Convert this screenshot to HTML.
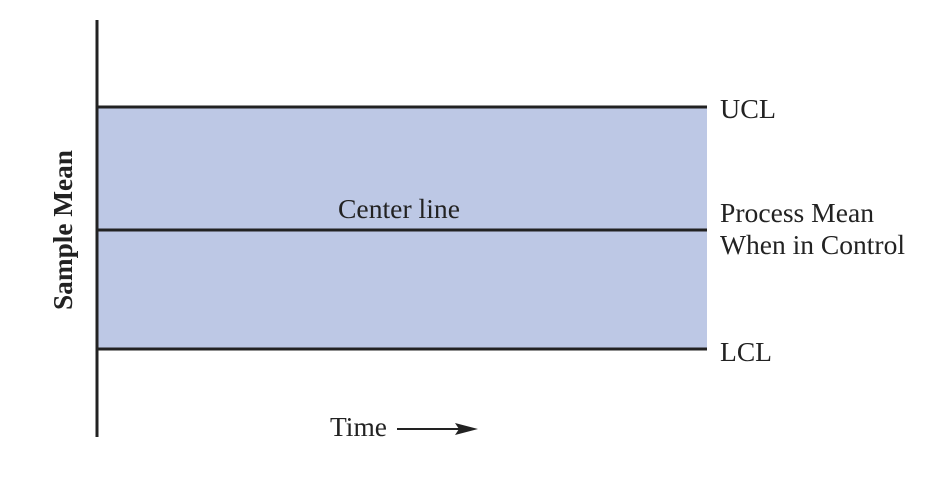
<!DOCTYPE html>
<html><head><style>body{margin:0;background:#fff}</style></head><body>
<svg width="942" height="482" xmlns="http://www.w3.org/2000/svg" font-family="Liberation Serif, serif" font-size="27" fill="#222">
<rect x="98" y="107" width="609" height="242" fill="#bdc8e5"/>
<line x1="97" y1="20" x2="97" y2="437" stroke="#222" stroke-width="3"/>
<line x1="97" y1="107" x2="707" y2="107" stroke="#222" stroke-width="3"/>
<line x1="97" y1="230" x2="707" y2="230" stroke="#222" stroke-width="3"/>
<line x1="97" y1="349" x2="707" y2="349" stroke="#222" stroke-width="3"/>
<text x="720" y="118" textLength="56" lengthAdjust="spacingAndGlyphs">UCL</text>
<text x="720" y="222" textLength="154" lengthAdjust="spacingAndGlyphs">Process Mean</text>
<text x="720" y="254" textLength="185" lengthAdjust="spacingAndGlyphs">When in Control</text>
<text x="720" y="361" textLength="52" lengthAdjust="spacingAndGlyphs">LCL</text>
<text x="338" y="218" textLength="122" lengthAdjust="spacingAndGlyphs">Center line</text>
<text x="330" y="436" textLength="57" lengthAdjust="spacingAndGlyphs">Time</text>
<line x1="397" y1="429" x2="460" y2="429" stroke="#222" stroke-width="2"/>
<polygon points="455,423 478,429 455,435 459,429" fill="#222"/>
<text transform="translate(72,230) rotate(-90)" text-anchor="middle" font-weight="bold" textLength="160" lengthAdjust="spacingAndGlyphs">Sample Mean</text>
</svg>
</body></html>
